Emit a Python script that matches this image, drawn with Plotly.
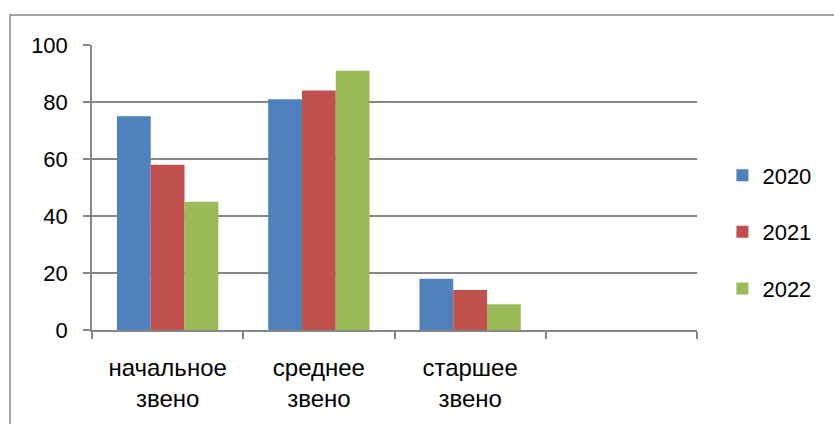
import plotly.graph_objects as go

categories_line1 = ["начальное", "среднее", "старшее"]
categories_line2 = ["звено", "звено", "звено"]
years = ["2020", "2021", "2022"]
values_2020 = [75, 81, 18]
values_2021 = [58, 84, 14]
values_2022 = [45, 91, 9]
y_ticks = [0, 20, 40, 60, 80, 100]

colors = ["#4F81BD", "#C0504D", "#9BBB59"]
series = [values_2020, values_2021, values_2022]
xpos = list(range(len(categories_line1)))
n_slots = 4  # includes one empty category slot as in original

FONT = "Liberation Sans, Arial, sans-serif"
FS = 22
FSX = 24
GRID = "#868686"

fig = go.Figure()
for i, (yr, vals) in enumerate(zip(years, series)):
    fig.add_trace(go.Bar(
        x=xpos, y=vals, name=yr, marker=dict(color=colors[i], line=dict(width=0)),
        legendgroup=yr,
    ))
# invisible helper trace so the second-line label axis is drawn
fig.add_trace(go.Scatter(x=xpos, y=[None] * len(xpos), xaxis="x2", yaxis="y",
                         mode="markers", showlegend=False, hoverinfo="skip"))

rng = [-0.5, n_slots - 0.5]
fig.update_layout(
    width=834, height=424,
    margin=dict(l=92, r=137, t=45, b=94),
    paper_bgcolor="white", plot_bgcolor="white",
    font=dict(family=FONT, size=FS, color="black"),
    barmode="group", bargap=0.33, bargroupgap=0,
    showlegend=True,
    legend=dict(x=1.042, xanchor="left", y=0.344, yanchor="middle",
                traceorder="grouped", tracegroupgap=25,
                font=dict(family=FONT, size=FS, color="black"),
                bgcolor="rgba(0,0,0,0)"),
    xaxis=dict(range=rng, tickmode="array", tickvals=xpos, ticktext=categories_line1,
               ticks="", ticklabelstandoff=15,
               minor=dict(ticks="outside", tickmode="linear", tick0=-0.5, dtick=1,
                          ticklen=7, tickwidth=1.5, tickcolor=GRID, showgrid=False),
               showline=True, linecolor=GRID, linewidth=1.5,
               showgrid=False, zeroline=False, fixedrange=True,
               tickfont=dict(family=FONT, size=FSX, color="black")),
    xaxis2=dict(range=rng, overlaying="x", anchor="y", side="bottom",
                tickmode="array", tickvals=xpos, ticktext=categories_line2, ticks="",
                showline=False, showgrid=False, zeroline=False,
                ticklabelstandoff=52,
                tickfont=dict(family=FONT, size=FSX, color="black")),
    yaxis=dict(range=[0, 100], tickvals=y_ticks, ticks="outside", ticklen=7,
               tickwidth=1.5, tickcolor=GRID, showline=True, linecolor=GRID,
               linewidth=1.5, showgrid=True, gridcolor=GRID, gridwidth=1.5,
               zeroline=False, ticklabelstandoff=11,
               tickfont=dict(family=FONT, size=FS, color="black")),
    shapes=[dict(type="rect", xref="paper", yref="paper",
                 x0=(10 - 92) / 605, x1=1.4, y0=-0.5, y1=(330 - 15) / 285,
                 line=dict(color=GRID, width=1.5), layer="below")],
)

fig.write_html("out.html", config={"displayModeBar": False},
               post_script="document.body.style.margin='0';")
